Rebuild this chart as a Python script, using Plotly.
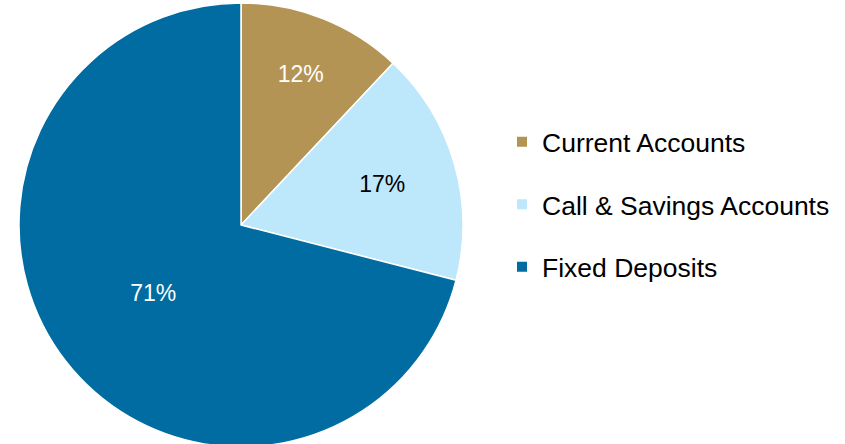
import plotly.graph_objects as go

categories = ["Current Accounts", "Call & Savings Accounts", "Fixed Deposits"]
shares = [12, 17, 71]
colors = ["#B49454", "#BDE7FB", "#006CA1"]
label_colors = ["white", "black", "white"]

W, H = 845, 447
FONT = "Liberation Sans, Arial, sans-serif"

fig = go.Figure()
fig.add_trace(go.Pie(
    labels=categories, values=shares, sort=False, direction="clockwise", rotation=0,
    marker=dict(colors=colors, line=dict(color="white", width=1.5)),
    textinfo="percent", textposition="inside", insidetextorientation="horizontal",
    insidetextfont=dict(color=label_colors, size=23, family=FONT),
    domain=dict(x=[0, 482 / W], y=[0, 1]),
    showlegend=False, hoverinfo="label+percent",
))

# legend entries built from the same category/colour arrays
for name, c in zip(categories, colors):
    fig.add_trace(go.Scatter(
        x=[None], y=[None], mode="markers", name=name, legendgroup=name,
        marker=dict(symbol="square", size=10, color=c), showlegend=True,
        xaxis="x", yaxis="y",
    ))

fig.update_layout(
    width=W, height=H,
    margin=dict(l=0, r=0, t=3, b=0),
    paper_bgcolor="white", plot_bgcolor="white",
    font=dict(family=FONT, color="black"),
    xaxis=dict(visible=False, domain=[0.99, 1]),
    yaxis=dict(visible=False, domain=[0.99, 1]),
    legend=dict(
        x=502 / W, xanchor="left", y=1 - 203 / H, yanchor="middle",
        font=dict(size=26.5, family=FONT, color="black"),
        tracegroupgap=25, bgcolor="rgba(0,0,0,0)",
    ),
)

fig.write_html(
    "out.html",
    config={"displayModeBar": False},
    post_script="document.body.style.margin='0';document.body.style.overflow='hidden';",
)
